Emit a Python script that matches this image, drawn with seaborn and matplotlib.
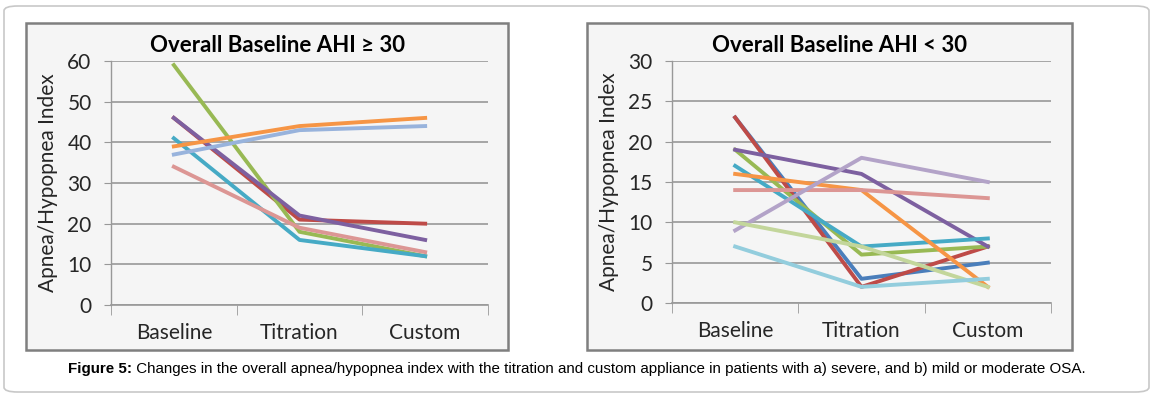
import matplotlib
matplotlib.use('Agg')
import matplotlib.pyplot as plt
import seaborn as sns
import pandas as pd
from matplotlib.patches import Rectangle, FancyBboxPatch

stages = ['Baseline', 'Titration', 'Custom']

# severe group (AHI >= 30)
severe_names = ['red', 'green', 'purple', 'teal', 'orange', 'lightblue', 'pink']
severe_vals = [
    [46, 21, 20],
    [59, 18, 12],
    [46, 22, 16],
    [41, 16, 12],
    [39, 44, 46],
    [37, 43, 44],
    [34, 19, 13],
]

# mild / moderate group (AHI < 30)
mild_names = ['blue', 'red', 'green', 'purple', 'teal', 'orange', 'pink',
              'lavender', 'lightgreen', 'skyblue']
mild_vals = [
    [23, 3, 5],
    [23, 2, 7],
    [19, 6, 7],
    [19, 16, 7],
    [17, 7, 8],
    [16, 14, 2],
    [14, 14, 13],
    [9, 18, 15],
    [10, 7, 2],
    [7, 2, 3],
]

colors = {
    'blue': '#4a7ebb', 'red': '#be4b48', 'green': '#98b954', 'purple': '#7d60a0',
    'teal': '#46aac5', 'orange': '#f69545', 'lightblue': '#98b3dc', 'pink': '#dc9694',
    'lavender': '#b3a3c8', 'lightgreen': '#c3d69b', 'skyblue': '#93cddd',
}


def to_long(names, vals):
    rows = []
    for n, v in zip(names, vals):
        for s, y in zip(stages, v):
            rows.append({'series': n, 'stage': s, 'ahi': y})
    return pd.DataFrame(rows)


W, H = 1153, 396
fig = plt.figure(figsize=(W / 100, H / 100), dpi=100)
fig.patch.set_facecolor('white')

# outer rounded frame
outer = FancyBboxPatch((4 / W, 4 / H), (W - 8) / W, (H - 10) / H,
                       boxstyle='round,pad=0,rounding_size=0.012',
                       transform=fig.transFigure, fill=False,
                       edgecolor='#c8c8c8', linewidth=1.2, zorder=-2)
fig.patches.append(outer)

font = 'Lato'


def panel(box, plot, names, vals, ymax, step, title):
    # chart box (pixels: x0, y0top, x1, y1bottom)
    bx0, by0, bx1, by1 = box
    fig.patches.append(Rectangle((bx0 / W, 1 - by1 / H), (bx1 - bx0) / W, (by1 - by0) / H,
                                 transform=fig.transFigure, facecolor='#f5f5f5',
                                 edgecolor='#7f7f7f', linewidth=1.8, zorder=-1))
    px0, py0, px1, py1 = plot
    ax = fig.add_axes([px0 / W, 1 - py1 / H, (px1 - px0) / W, (py1 - py0) / H])
    ax.set_zorder(1)
    ax.set_facecolor('none')
    df = to_long(names, vals)
    sns.lineplot(data=df, x='stage', y='ahi', hue='series', palette=colors,
                 hue_order=names, sort=False, linewidth=2.8, legend=False, ax=ax)
    ax.set_xlim(-0.5, 2.5)
    ax.set_ylim(0, ymax)
    ax.set_yticks(range(0, ymax + 1, step))
    ax.yaxis.grid(True, color='#989898', linewidth=1.2)
    ax.set_axisbelow(True)
    for s in ['top', 'right']:
        ax.spines[s].set_visible(False)
    ax.spines['left'].set_color('#989898')
    ax.spines['bottom'].set_color('#989898')
    ax.spines['left'].set_linewidth(1.0)
    ax.spines['bottom'].set_linewidth(1.2)
    ax.tick_params(axis='y', length=5, color='#989898', labelsize=15, pad=9,
                   labelcolor='#262626', direction='out')
    ax.set_xticks([0, 1, 2])
    ax.set_xticklabels(stages)
    ax.tick_params(axis='x', length=0, labelsize=15, pad=13, labelcolor='#262626')
    ax.set_xticks([-0.5, 0.5, 1.5, 2.5], minor=True)
    ax.tick_params(axis='x', which='minor', length=7, color='#989898', direction='out')
    for lab in ax.get_xticklabels() + ax.get_yticklabels():
        lab.set_family(font)
    ax.set_xlabel('')
    ax.set_ylabel('Apnea/Hypopnea Index', fontsize=15, family=font, color='#262626',
                  labelpad=7)
    fig.text(((bx0 + bx1) / 2 + 10) / W, 1 - 46 / H, title, ha='center', va='center',
             fontsize=16, fontweight='bold', family=font, color='black')
    return ax


panel((26, 23, 508, 350), (111, 61, 488, 305), severe_names, severe_vals, 60, 10,
      'Overall Baseline AHI \u2265 30')
panel((587, 23, 1072, 350), (672, 61, 1051, 303), mild_names, mild_vals, 30, 5,
      'Overall Baseline AHI < 30')

# caption: bold lead-in followed by regular text
cap_y = 1 - 369 / H
t1 = fig.text(0, cap_y, 'Figure 5:', ha='left', va='center', fontsize=10.9,
              fontweight='bold', family='Liberation Sans')
t2 = fig.text(0, cap_y, ' Changes in the overall apnea/hypopnea index with the titration '
              'and custom appliance in patients with a) severe, and b) mild or moderate OSA.',
              ha='left', va='center', fontsize=10.9, family='Liberation Sans')
fig.canvas.draw()
r = fig.canvas.get_renderer()
w1 = t1.get_window_extent(r).width
w2 = t2.get_window_extent(r).width
start = (W - w1 - w2) / 2
t1.set_x(start / W)
t2.set_x((start + w1) / W)

fig.savefig('out.png', dpi=100)
